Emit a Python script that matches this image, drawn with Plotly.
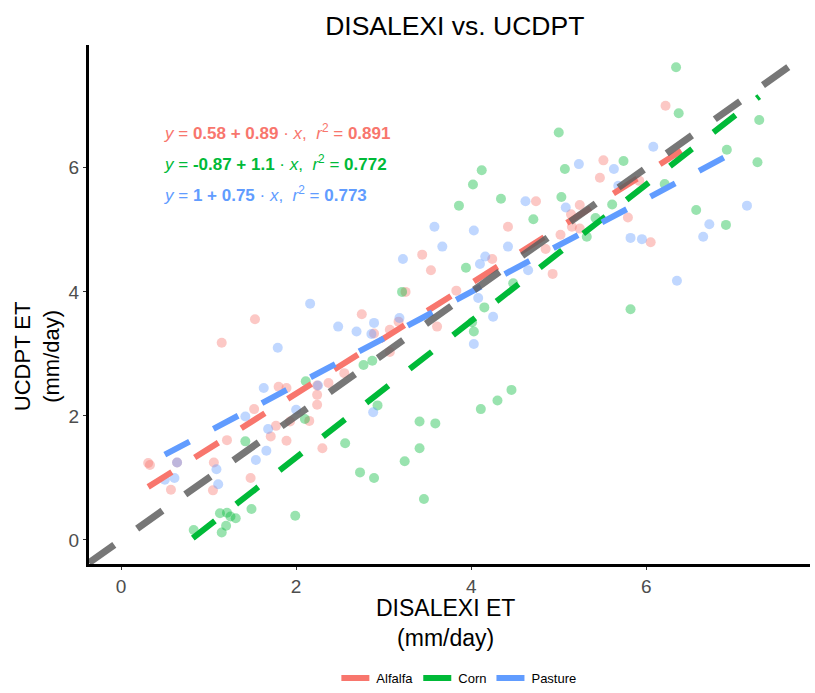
import plotly.graph_objects as go

# ---- data ----
alfalfa_x = [0.31, 0.33, 0.64, 1.06, 0.57, 1.05, 1.21, 1.15, 1.53, 1.48, 1.52, 1.71, 1.77, 1.80, 1.89,
             1.93, 1.89, 2.15, 2.24, 2.37, 2.24, 2.24, 2.30, 2.55, 2.75, 2.89, 3.07, 3.17, 3.07, 3.25,
             3.61, 3.44, 3.54, 3.83, 4.24, 4.42, 4.74, 4.85, 4.93, 5.02, 5.15, 5.24, 5.14, 5.24, 5.47,
             5.51, 5.79, 5.92, 6.05, 6.22]
alfalfa_y = [1.24, 1.21, 1.25, 1.25, 0.81, 0.80, 1.61, 3.18, 3.56, 1.00, 2.11, 1.67, 1.84, 2.47, 2.45,
             1.91, 1.60, 1.92, 2.49, 2.53, 2.34, 2.18, 1.48, 2.69, 3.64, 3.33, 3.39, 3.52, 3.03, 4.00,
             3.44, 4.60, 4.35, 4.02, 4.53, 5.05, 5.46, 4.69, 4.29, 4.92, 5.05, 5.02, 5.25, 5.40, 5.84,
             6.12, 5.20, 5.79, 4.80, 7.00]

corn_x = [0.83, 1.13, 1.21, 1.25, 1.31, 1.20, 1.15, 1.49, 1.42, 1.99, 2.11, 2.10, 2.56, 2.77, 2.87,
          2.93, 2.73, 2.89, 3.24, 3.41, 3.59, 3.41, 3.46, 3.21, 3.94, 3.86, 4.02, 4.12, 4.34, 4.01,
          4.03, 4.15, 4.48, 4.11, 4.30, 4.46, 4.71, 5.00, 5.03, 5.07, 5.32, 5.42, 5.61, 5.74, 5.82,
          6.21, 6.34, 6.37, 6.57, 6.91, 6.92, 7.27, 7.29]
corn_y = [0.16, 0.43, 0.44, 0.38, 0.35, 0.23, 0.12, 0.50, 1.59, 0.39, 2.56, 1.95, 1.56, 2.82, 2.89,
          2.17, 1.09, 1.00, 1.27, 1.91, 1.88, 1.48, 0.66, 4.00, 4.39, 5.39, 5.73, 5.96, 5.50, 3.51,
          3.36, 3.75, 4.14, 2.11, 2.25, 2.42, 5.17, 6.57, 5.53, 5.98, 4.89, 5.19, 5.41, 6.11, 3.72,
          5.74, 7.62, 6.88, 5.32, 5.08, 6.29, 6.09, 6.77]

pasture_x = [0.50, 0.61, 0.64, 1.09, 1.11, 1.54, 1.42, 1.63, 1.68, 1.66, 1.79, 2.00, 2.16, 2.25, 2.48,
             2.69, 2.89, 2.86, 3.18, 2.88, 3.22, 3.58, 3.67, 4.03, 4.10, 4.16, 4.42, 4.08, 4.25, 4.03,
             4.65, 4.62, 5.08, 5.23, 5.63, 5.68, 5.82, 5.95, 6.08, 6.35, 6.65, 6.72, 7.15]
pasture_y = [0.97, 1.00, 1.25, 1.14, 0.90, 1.29, 1.99, 2.45, 1.79, 1.44, 3.10, 2.10, 3.81, 2.49, 3.44,
             3.36, 3.50, 3.32, 3.58, 2.06, 4.53, 5.05, 4.73, 4.99, 4.45, 4.57, 4.73, 3.90, 3.60, 3.16,
             4.35, 5.46, 5.36, 6.06, 5.98, 5.71, 4.87, 4.85, 6.34, 4.18, 4.89, 5.09, 5.39]

groups = ["Alfalfa", "Corn", "Pasture"]
intercepts = [0.58, -0.87, 1.0]
slopes = [0.89, 1.1, 0.75]
r2 = [0.891, 0.772, 0.773]
eq_labels = ["0.58 + 0.89", "-0.87 + 1.1", "1 + 0.75"]
line_x = [[0.31, 6.40], [0.82, 7.29], [0.50, 6.90]]

colors = ["#F8766D", "#00BA38", "#619CFF"]
point_colors = ["rgba(248,118,109,0.4)", "rgba(0,186,56,0.4)", "rgba(97,156,255,0.4)"]
xs = [alfalfa_x, corn_x, pasture_x]
ys = [alfalfa_y, corn_y, pasture_y]

XR = [-0.366, 7.87]
YR = [-0.387, 7.98]
FONT = "Liberation Sans, Arial, sans-serif"

fig = go.Figure()

for g, x, y, pc in zip(groups, xs, ys, point_colors):
    fig.add_trace(go.Scatter(x=x, y=y, mode="markers", showlegend=False,
                             marker=dict(size=10, color=pc, line=dict(width=0)), name=g))

for g, a, b, lx, c in zip(groups, intercepts, slopes, line_x, colors):
    fig.add_trace(go.Scatter(x=lx, y=[a + b * v for v in lx], mode="lines", name=g,
                             line=dict(color=c, width=6, dash="28px,27px")))

# 1:1 line
fig.add_trace(go.Scatter(x=XR, y=XR, mode="lines", showlegend=False,
                         line=dict(color="rgba(95,95,95,0.85)", width=7, dash="31px,28px")))

for i, (lab, rr, c) in enumerate(zip(eq_labels, r2, colors)):
    fig.add_annotation(x=0.47, y=6.58 - 0.5 * i, xref="x", yref="y", xanchor="left", yanchor="middle",
                       showarrow=False,
                       text=f"<i>y</i> = <b>{lab}</b> · <i>x</i>,  <i>r</i><sup>2</sup> = <b>{rr}</b>",
                       font=dict(size=17, color=c, family=FONT))

fig.add_annotation(x=0.494, y=-0.113, xref="paper", yref="paper", showarrow=False,
                   text="DISALEXI ET<br>(mm/day)", font=dict(size=23, color="black", family=FONT),
                   xanchor="center", yanchor="middle")
fig.add_annotation(x=-0.071, y=0.40, xref="paper", yref="paper", showarrow=False, textangle=-90,
                   text="UCDPT ET<br>(mm/day)", font=dict(size=22, color="black", family=FONT),
                   xanchor="center", yanchor="middle")

fig.update_layout(
    width=815, height=693,
    margin=dict(l=89, r=5, t=45, b=129),
    paper_bgcolor="white", plot_bgcolor="white",
    font=dict(family=FONT, color="black"),
    title=dict(text="DISALEXI vs. UCDPT", x=0.558, xanchor="center", y=0.963, yanchor="middle",
               font=dict(size=26.5, color="black", family=FONT)),
    showlegend=True,
    legend=dict(orientation="h", x=0.513, xanchor="center", xref="paper",
                y=-0.009, yanchor="bottom", yref="container",
                font=dict(size=13, color="black", family=FONT), itemwidth=30,
                tracegroupgap=0),
    xaxis=dict(range=XR, tickvals=[0, 2, 4, 6], showgrid=False, zeroline=False,
               showline=True, linecolor="black", linewidth=3, ticks="outside", ticklen=3,
               tickcolor="#333333", tickwidth=1,
               tickfont=dict(size=19, color="#4d4d4d", family=FONT)),
    yaxis=dict(range=YR, tickvals=[0, 2, 4, 6], showgrid=False, zeroline=False,
               showline=True, linecolor="black", linewidth=3, ticks="outside", ticklen=3,
               tickcolor="#333333", tickwidth=1,
               tickfont=dict(size=19, color="#4d4d4d", family=FONT)),
)

fig.write_html("out.html")
